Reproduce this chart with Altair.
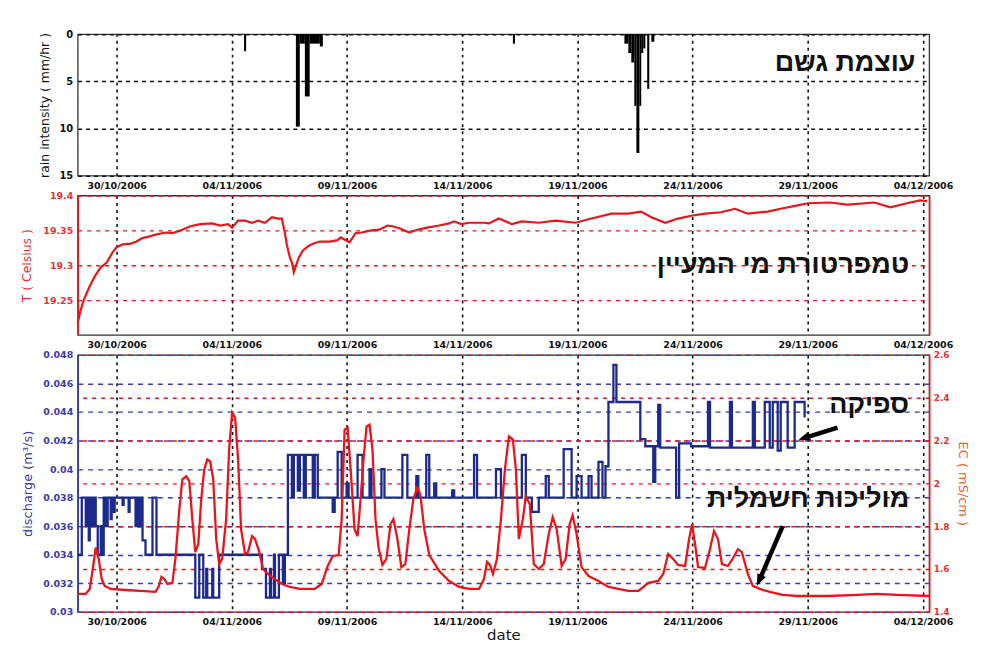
import altair as alt
import pandas as pd

BASE = pd.Timestamp("2006-10-30")

tick_labels = ["30/10/2006", "04/11/2006", "09/11/2006", "14/11/2006",
               "19/11/2006", "24/11/2006", "29/11/2006", "04/12/2006"]
x_domain_days = [-1.69, 35.27]

# ---- rain intensity (days after 30/10/2006) ----
rain_start_day = [5.53, 7.78, 7.95, 8.17, 8.38, 8.82, 17.20, 22.04, 22.21, 22.34,
                  22.47, 22.56, 22.69, 22.77, 22.86, 23.03, 23.21]
rain_end_day = [5.62, 7.95, 8.17, 8.38, 8.82, 8.95, 17.29, 22.21, 22.34, 22.47,
                22.56, 22.69, 22.77, 22.86, 22.95, 23.12, 23.34]
rain_mm_hr = [1.8, 9.8, 1.0, 6.6, 1.0, 1.3, 1.0, 1.0, 2.0, 3.0,
              7.6, 12.6, 7.6, 2.0, 1.5, 5.8, 0.8]

# ---- spring water temperature ----
temp_day = [-1.69, -1.56, -1.43, -1.21, -0.95, -0.69, -0.43, -0.17, 0.0, 0.26,
            0.61, 0.86, 1.12, 1.38, 1.69, 2.12, 2.42, 2.77, 3.20, 3.63,
            4.15, 4.49, 4.84, 5.01, 5.27, 5.57, 5.88, 6.14, 6.44, 6.74,
            7.00, 7.17, 7.30, 7.39, 7.52, 7.61, 7.69, 7.78, 7.91, 8.08,
            8.30, 8.51, 8.82, 9.25, 9.59, 9.72, 9.94, 10.11, 10.37, 10.63,
            11.06, 11.41, 11.75, 11.97, 12.27, 12.71, 13.05, 13.48, 14.00, 14.43,
            14.65, 14.95, 15.30, 15.95, 16.16, 16.59, 17.16, 17.59, 18.32, 19.06,
            19.92, 20.48, 21.48, 22.21, 22.77, 23.21, 23.81, 24.37, 24.94, 25.54,
            26.23, 26.84, 27.40, 28.26, 28.82, 29.56, 29.99, 30.98, 31.72, 32.89,
            33.58, 34.31, 34.87, 35.18]
temp_c = [19.217, 19.236, 19.25, 19.267, 19.284, 19.297, 19.304, 19.319, 19.326, 19.33,
          19.331, 19.334, 19.339, 19.341, 19.344, 19.347, 19.346, 19.35, 19.356, 19.359,
          19.36, 19.357, 19.359, 19.354, 19.364, 19.364, 19.361, 19.364, 19.361, 19.369,
          19.367, 19.367, 19.347, 19.329, 19.311, 19.304, 19.29, 19.299, 19.311, 19.321,
          19.327, 19.331, 19.334, 19.334, 19.336, 19.34, 19.336, 19.333, 19.346, 19.347,
          19.35, 19.351, 19.357, 19.356, 19.353, 19.347, 19.351, 19.354, 19.357, 19.36,
          19.363, 19.359, 19.361, 19.361, 19.36, 19.367, 19.359, 19.363, 19.361, 19.364,
          19.361, 19.366, 19.374, 19.374, 19.377, 19.369, 19.361, 19.367, 19.371, 19.374,
          19.376, 19.381, 19.374, 19.377, 19.381, 19.386, 19.389, 19.39, 19.387, 19.39,
          19.383, 19.389, 19.393, 19.392]

# ---- discharge (step series) ----
q_day = [-1.685, -1.513, -1.340, -1.296, -1.210, -1.167, -1.080, -0.994, -0.908, -0.821,
         -0.691, -0.648, -0.562, -0.475, -0.389, -0.259, -0.216, -0.130, -0.086, 0.259,
         0.303, 0.519, 0.562, 0.821, 0.908, 0.994, 1.037, 1.124, 1.253, 1.556,
         1.729, 3.414, 3.587, 3.760, 3.889, 3.933, 4.149, 4.192, 4.451, 6.309,
         6.482, 6.655, 6.698, 6.828, 6.871, 7.044, 7.217, 7.303, 7.433, 7.606,
         7.692, 7.865, 7.952, 8.124, 8.211, 8.513, 8.600, 8.729, 9.378, 9.464,
         9.594, 9.767, 9.983, 10.069, 10.458, 10.674, 10.977, 11.063, 11.495, 11.625,
         12.403, 12.619, 13.008, 13.094, 13.440, 13.570, 13.786, 13.872, 14.564, 14.650,
         15.514, 15.644, 16.465, 16.681, 17.589, 17.761, 18.021, 18.323, 18.626, 18.756,
         19.404, 19.749, 19.965, 20.181, 20.484, 20.614, 20.916, 21.089, 21.219, 21.348,
         21.564, 21.694, 22.731, 22.947, 23.293, 23.379, 23.509, 23.596, 24.287, 24.416,
         24.935, 25.670, 25.756, 26.621, 26.707, 27.615, 27.701, 28.133, 28.349, 28.479,
         28.695, 28.825, 29.127, 29.430, 29.862, 29.905]
q_m3s = [0.034, 0.038, 0.036, 0.038, 0.035, 0.038, 0.036, 0.038, 0.036, 0.034,
         0.036, 0.034, 0.038, 0.036, 0.038, 0.0365, 0.038, 0.037, 0.038, 0.0375,
         0.038, 0.037, 0.038, 0.036, 0.038, 0.036, 0.038, 0.035, 0.034, 0.038,
         0.034, 0.031, 0.034, 0.031, 0.033, 0.031, 0.033, 0.031, 0.034, 0.033,
         0.031, 0.033, 0.031, 0.034, 0.031, 0.034, 0.032, 0.034, 0.041, 0.038,
         0.041, 0.0385, 0.041, 0.038, 0.041, 0.038, 0.041, 0.038, 0.037, 0.038,
         0.0412, 0.038, 0.039, 0.038, 0.041, 0.038, 0.040, 0.038, 0.040, 0.038,
         0.041, 0.038, 0.0395, 0.038, 0.041, 0.038, 0.039, 0.038, 0.0385, 0.038,
         0.041, 0.038, 0.040, 0.038, 0.041, 0.038, 0.037, 0.038, 0.0395, 0.038,
         0.0414, 0.038, 0.0395, 0.038, 0.0395, 0.038, 0.0405, 0.038, 0.0402, 0.0447,
         0.0473, 0.0447, 0.0421, 0.0416, 0.0391, 0.0416, 0.0445, 0.0415, 0.038, 0.0418,
         0.0416, 0.0447, 0.0415, 0.0447, 0.0415, 0.0447, 0.0415, 0.0447, 0.0415, 0.0447,
         0.0413, 0.0447, 0.0415, 0.0447, 0.0437, 0.0437]

# ---- electrical conductivity ----
ec_day = [-1.685, -1.340, -1.167, -1.037, -0.908, -0.778, -0.648, -0.519, -0.259, 0.389,
          1.037, 1.685, 1.815, 1.945, 2.074, 2.204, 2.420, 2.550, 2.723, 2.852,
          3.025, 3.155, 3.284, 3.414, 3.544, 3.673, 3.803, 3.933, 4.062, 4.192,
          4.322, 4.451, 4.581, 4.754, 4.883, 5.013, 5.143, 5.272, 5.402, 5.575,
          5.704, 5.877, 6.007, 6.180, 6.353, 6.569, 6.871, 7.174, 7.519, 7.952,
          8.600, 8.902, 9.162, 9.378, 9.637, 9.767, 9.896, 10.026, 10.156, 10.328,
          10.458, 10.588, 10.717, 10.847, 10.977, 11.106, 11.236, 11.366, 11.538, 11.711,
          11.884, 12.014, 12.187, 12.359, 12.532, 12.705, 12.878, 13.051, 13.181, 13.353,
          13.570, 14.002, 14.434, 14.866, 15.298, 15.730, 15.946, 16.076, 16.206, 16.335,
          16.508, 16.681, 16.854, 17.027, 17.200, 17.329, 17.459, 17.632, 17.761, 17.934,
          18.107, 18.323, 18.539, 18.756, 18.928, 19.101, 19.317, 19.490, 19.663, 19.793,
          19.965, 20.181, 20.484, 20.916, 21.348, 21.780, 22.212, 22.644, 22.861, 23.077,
          23.509, 23.725, 23.941, 24.157, 24.373, 24.676, 24.849, 24.978, 25.108, 25.238,
          25.540, 25.756, 25.929, 26.102, 26.275, 26.534, 26.737, 26.966, 27.139, 27.398,
          27.615, 27.917, 28.349, 28.911, 29.560, 30.855, 32.152, 33.016, 33.880, 35.263]
ec_ms_cm = [1.484, 1.484, 1.507, 1.60, 1.70, 1.647, 1.553, 1.521, 1.507, 1.502,
            1.498, 1.493, 1.516, 1.563, 1.553, 1.53, 1.535, 1.647, 1.879, 2.019,
            2.033, 2.009, 1.833, 1.679, 1.716, 1.926, 2.065, 2.112, 2.102, 2.019,
            1.74, 1.623, 1.647, 1.833, 2.158, 2.33, 2.307, 2.112, 1.786, 1.67,
            1.679, 1.753, 1.74, 1.684, 1.60, 1.577, 1.553, 1.53, 1.516, 1.507,
            1.507, 1.53, 1.614, 1.661, 1.665, 1.833, 2.251, 2.26, 2.065, 1.786,
            1.753, 1.926, 2.112, 2.265, 2.274, 2.158, 1.833, 1.702, 1.619, 1.647,
            1.809, 1.833, 1.74, 1.609, 1.623, 1.786, 1.926, 1.981, 1.949, 1.786,
            1.665, 1.591, 1.544, 1.516, 1.507, 1.507, 1.553, 1.633, 1.619, 1.577,
            1.647, 1.833, 2.065, 2.219, 2.205, 2.065, 1.74, 1.833, 1.94, 1.902,
            1.623, 1.60, 1.623, 1.763, 1.842, 1.786, 1.614, 1.647, 1.809, 1.851,
            1.763, 1.609, 1.567, 1.544, 1.516, 1.507, 1.498, 1.498, 1.516, 1.535,
            1.544, 1.577, 1.67, 1.647, 1.619, 1.614, 1.74, 1.809, 1.716, 1.609,
            1.605, 1.693, 1.777, 1.74, 1.623, 1.614, 1.647, 1.693, 1.679, 1.577,
            1.521, 1.507, 1.493, 1.479, 1.474, 1.474, 1.479, 1.484, 1.479, 1.474]

# ---- annotations (Hebrew labels and arrows) ----
rain_label = ["עוצמת גשם"]
rain_label_day = [34.67]
rain_label_val = [3.1]
temp_label = ["טמפרטורת מי המעיין"]
temp_label_day = [34.40]
temp_label_val = [19.30]
ec_labels = ["ספיקה", "מוליכות חשמלית"]
ec_label_day = [34.40, 34.40]
ec_label_val = [2.367, 1.926]
arrow_tail_day = [31.29, 28.91]
arrow_tail_val = [2.260, 1.80]
arrow_head_day = [29.90, 27.92]
arrow_head_val = [2.214, 1.553]
arrow_angle = [252, 204]

q_ticks = [0.03, 0.032, 0.034, 0.036, 0.038, 0.04, 0.042, 0.044, 0.046, 0.048]
ec_ticks = [1.4, 1.6, 1.8, 2.0, 2.2, 2.4, 2.6]
temp_ticks = [19.25, 19.3, 19.35, 19.4]
rain_ticks = [0, 5, 10, 15]

BLUE_LINE = "#1b2a8c"
BLUE_TXT = "#3b3bab"
RED_LINE = "#e8151d"
RED_TXT = "#e23434"
ORANGE_TXT = "#f0602a"
BLACK = "#111111"
HEB_FONT = "Liberation Sans, DejaVu Sans, sans-serif"
AX_FONT = "DejaVu Sans"


def days_to_time(days):
    return [BASE + pd.Timedelta(days=float(d)) for d in days]


def to_dt(ts):
    return alt.DateTime(year=ts.year, month=ts.month, date=ts.day,
                        hours=ts.hour, minutes=ts.minute, seconds=ts.second)


tick_values = [to_dt(pd.to_datetime(s, format="%d/%m/%Y")) for s in tick_labels]
x_scale = alt.Scale(domain=[to_dt(t) for t in days_to_time(x_domain_days)])

W = 855


def x_enc(field, title=None):
    return alt.X(field, type="temporal", scale=x_scale, title=title,
                 axis=alt.Axis(values=tick_values, format="%d/%m/%Y",
                               labelFlush=False, labelOverlap=False,
                               grid=True, gridColor=BLACK, gridDash=[3, 4],
                               gridWidth=1.6, domain=False, ticks=False,
                               labelPadding=5, labelFont=AX_FONT,
                               labelFontWeight="bold", labelFontSize=9.5,
                               labelColor=BLACK, titleFont=AX_FONT,
                               titleFontSize=15, titleFontWeight="normal",
                               titleColor=BLACK, titlePadding=1))


# ---------------- panel 1: rain ----------------
rain_df = pd.DataFrame({"t": days_to_time(rain_start_day),
                        "t2": days_to_time(rain_end_day),
                        "v": rain_mm_hr})
rain_scale = alt.Scale(domain=[0, 15], reverse=True)
rain_y = alt.Y("v:Q", scale=rain_scale,
               axis=alt.Axis(values=rain_ticks, grid=True, gridColor=BLACK,
                             gridDash=[4, 4], gridWidth=1.5, domain=False,
                             ticks=False, labelPadding=5, labelFont=AX_FONT,
                             labelFontWeight="bold", labelFontSize=10,
                             labelColor=BLACK, title="rain intensity ( mm/hr )",
                             titleFont=AX_FONT, titleFontSize=12.5,
                             titleFontWeight="normal", titleColor=BLACK,
                             titlePadding=7))
rain_bars = alt.Chart(rain_df).mark_rect(color="black").encode(
    x=x_enc("t"), x2="t2", y=rain_y, y2=alt.datum(0))
rain_txt_df = pd.DataFrame({"t": days_to_time(rain_label_day), "v": rain_label_val,
                            "label": rain_label})
rain_txt = alt.Chart(rain_txt_df).mark_text(
    align="right", baseline="middle", font=HEB_FONT, fontSize=27,
    fontWeight="bold", color=BLACK).encode(x=x_enc("t"), y=rain_y, text="label:N")
p1 = alt.layer(rain_bars, rain_txt).properties(width=W, height=142)

# ---------------- panel 2: temperature ----------------
temp_df = pd.DataFrame({"t": days_to_time(temp_day), "v": temp_c})
temp_scale = alt.Scale(domain=[19.2, 19.4])
temp_y = alt.Y("v:Q", scale=temp_scale,
               axis=alt.Axis(values=temp_ticks, format="~g", grid=True,
                             gridColor=RED_LINE, gridDash=[4, 5], gridWidth=1.4,
                             domain=True, domainColor=RED_LINE, domainWidth=1.6,
                             ticks=False, labelPadding=5, labelFont=AX_FONT,
                             labelFontWeight="bold", labelFontSize=9.5,
                             labelColor=RED_TXT, title="T ( Celsius )",
                             titleFont=AX_FONT, titleFontSize=12.5,
                             titleFontWeight="normal", titleColor=RED_TXT,
                             titlePadding=9))
temp_line = alt.Chart(temp_df).mark_line(color=RED_LINE, strokeWidth=2.2).encode(
    x=x_enc("t"), y=temp_y)
temp_txt_df = pd.DataFrame({"t": days_to_time(temp_label_day), "v": temp_label_val,
                            "label": temp_label})
temp_txt = alt.Chart(temp_txt_df).mark_text(
    align="right", baseline="middle", font=HEB_FONT, fontSize=27,
    fontWeight="bold", color=BLACK).encode(
    x=x_enc("t"), y=alt.Y("v:Q", scale=temp_scale, axis=None), text="label:N")
temp_right = alt.Chart(temp_df).mark_line(opacity=0).encode(
    x=x_enc("t"),
    y=alt.Y("v:Q", scale=temp_scale,
            axis=alt.Axis(orient="right", labels=False, ticks=False, grid=False,
                          domainColor=RED_LINE, domainWidth=1.6, title=None)))
p2 = alt.layer(temp_line, temp_txt, temp_right).resolve_axis(
    y="independent").properties(width=W, height=140)

# ---------------- panel 3: discharge + EC ----------------
q_df = pd.DataFrame({"t": days_to_time(q_day), "v": q_m3s})
q_line = alt.Chart(q_df).mark_line(
    interpolate="step-after", color=BLUE_LINE, strokeWidth=2.3).encode(
    x=x_enc("t", title="date"),
    y=alt.Y("v:Q", scale=alt.Scale(domain=[0.03, 0.048]),
            axis=alt.Axis(values=q_ticks, format="~g", grid=True,
                          gridColor=BLUE_TXT, gridDash=[5, 5], gridWidth=1.4,
                          domain=True, domainColor=BLUE_TXT, domainWidth=1.6,
                          ticks=False, labelPadding=5, labelFont=AX_FONT,
                          labelFontWeight="bold", labelFontSize=9.5,
                          labelColor=BLUE_TXT, title="discharge (m³/s)",
                          titleFont=AX_FONT, titleFontSize=13,
                          titleFontWeight="normal", titleColor=BLUE_TXT,
                          titlePadding=8)))

ec_scale = alt.Scale(domain=[1.4, 2.6])
ec_axis = alt.Axis(orient="right", values=ec_ticks, format="~g", grid=True,
                   gridColor=RED_LINE, gridDash=[4, 5], gridWidth=1.4,
                   domain=True, domainColor=RED_LINE, domainWidth=1.6,
                   ticks=False, labelPadding=4, labelFont=AX_FONT,
                   labelFontWeight="bold", labelFontSize=9,
                   labelColor=RED_TXT, title="EC ( mS/cm )",
                   titleFont=AX_FONT, titleFontSize=13,
                   titleFontWeight="normal", titleColor=ORANGE_TXT,
                   titlePadding=6)
ec_y = alt.Y("e:Q", scale=ec_scale, axis=ec_axis)

ec_df = pd.DataFrame({"t": days_to_time(ec_day), "e": ec_ms_cm})
ec_line = alt.Chart(ec_df).mark_line(color=RED_LINE, strokeWidth=2.3).encode(
    x=x_enc("t", title="date"), y=ec_y)

arrow_df = pd.DataFrame({"t": days_to_time(arrow_tail_day), "e": arrow_tail_val,
                         "t2": days_to_time(arrow_head_day), "e2": arrow_head_val,
                         "ang": arrow_angle})
arrow_rules = alt.Chart(arrow_df).mark_rule(color="black", strokeWidth=4.5).encode(
    x=x_enc("t", title="date"), y=ec_y, x2="t2", y2="e2")
head_df = pd.DataFrame({"t": days_to_time(arrow_head_day), "e": arrow_head_val,
                        "ang": arrow_angle})
arrow_heads = alt.Chart(head_df).mark_point(
    shape="M0,-1.2L0.75,0.7L-0.75,0.7Z", filled=True, color="black",
    opacity=1, size=150).encode(
    x=x_enc("t", title="date"), y=ec_y,
    angle=alt.Angle("ang:Q", scale=None))
lab_df = pd.DataFrame({"t": days_to_time(ec_label_day), "e": ec_label_val,
                       "label": ec_labels})
ec_txt = alt.Chart(lab_df).mark_text(
    align="right", baseline="middle", font=HEB_FONT, fontSize=27,
    fontWeight="bold", color=BLACK).encode(
    x=x_enc("t", title="date"), y=ec_y, text="label:N")

ec_layer = alt.layer(ec_line, arrow_rules, arrow_heads, ec_txt)
p3 = alt.layer(q_line, ec_layer).resolve_scale(y="independent").properties(
    width=W, height=258)

chart = alt.vconcat(p1, p2, p3, spacing=20, bounds="flush").properties(
    padding={"left": 12, "top": 19, "right": 5, "bottom": 5},
    background="white",
).configure_view(stroke="#333333", strokeWidth=1.3)

chart.save("out.html", embed_options={"renderer": "svg", "actions": False})
